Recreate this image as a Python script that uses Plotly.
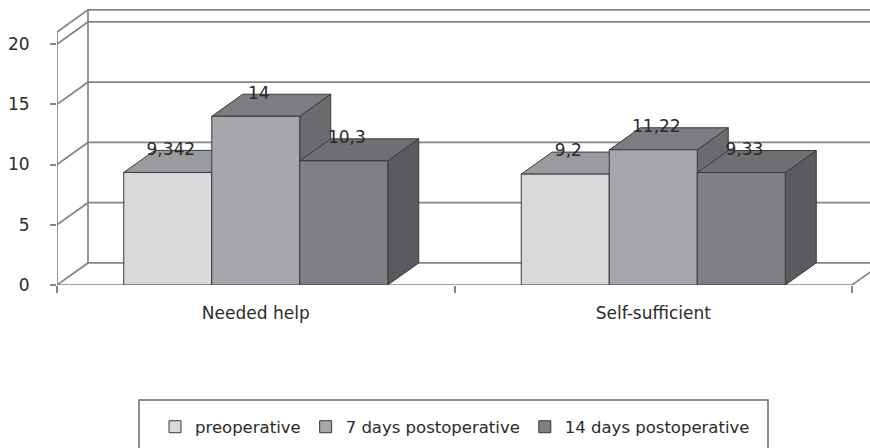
import plotly.graph_objects as go

# Data
categories = ["Needed help", "Self-sufficient"]
series_names = ["preoperative", "7 days postoperative", "14 days postoperative"]
preoperative = [9.342, 9.2]
days7_post = [14, 11.22]
days14_post = [10.3, 9.33]
y_ticks = [0, 5, 10, 15, 20]

series_values = [preoperative, days7_post, days14_post]

# Styling (front, top, side face colours per series)
front_colors = ["#d8d9db", "#a6a7aa", "#7f8083"]
top_colors = ["#9a9b9e", "#7c7d80", "#6e6f72"]
side_colors = ["#87888b", "#6a6b6e", "#5a5b5e"]
edge_color = "#3a3a3a"
grid_color = "#858585"
text_color = "#2a2a2a"
FONT = "DejaVu Sans"

# Pseudo-3D geometry, in axis units
PX_PER_X = 397.5
BAR_W = 88 / PX_PER_X   # width of one column
DX = 31 / PX_PER_X      # depth offset along x
DY = 1.83               # depth offset along y
WALL_TOP = 21           # height of the walls
X_LEFT = -0.5
X_RIGHT = 1.5
X_MAX = -0.5 + 813 / PX_PER_X
Y_MAX = 285 / 12.05

fig = go.Figure()

# Walls and floor outlines
gx, gy = [], []
for v in y_ticks[1:]:
    gx += [X_LEFT, X_LEFT + DX, X_MAX + 1, None]
    gy += [v, v + DY, v + DY, None]
gx += [X_LEFT, X_LEFT + DX, X_MAX + 1, None]
gy += [WALL_TOP, WALL_TOP + DY, WALL_TOP + DY, None]
gx += [X_LEFT, X_LEFT, None, X_LEFT + DX, X_LEFT + DX, None]
gy += [0, WALL_TOP, None, DY, WALL_TOP + DY, None]
gx += [X_LEFT, X_RIGHT, X_RIGHT + DX, None, X_LEFT, X_LEFT + DX, X_MAX + 1, None]
gy += [0, 0, DY, None, 0, DY, DY, None]
fig.add_trace(go.Scatter(
    x=gx, y=gy, mode="lines", line=dict(color=grid_color, width=1.7),
    hoverinfo="skip", showlegend=False, zorder=0,
))

# Columns: side and top faces, then the front face drawn as a bar
for k, (name, vals) in enumerate(zip(series_names, series_values)):
    offset = -1.5 * BAR_W + k * BAR_W
    tx, ty, sx, sy = [], [], [], []
    for i, v in enumerate(vals):
        x0 = i + offset
        x1 = x0 + BAR_W
        tx += [x0, x0 + DX, x1 + DX, x1, x0, None]
        ty += [v, v + DY, v + DY, v, v, None]
        sx += [x1, x1 + DX, x1 + DX, x1, x1, None]
        sy += [0, DY, v + DY, v, 0, None]
    fig.add_trace(go.Scatter(
        x=sx, y=sy, mode="lines", fill="toself", fillcolor=side_colors[k],
        line=dict(color=edge_color, width=1), hoverinfo="skip",
        showlegend=False, zorder=3 * k + 1,
    ))
    fig.add_trace(go.Scatter(
        x=tx, y=ty, mode="lines", fill="toself", fillcolor=top_colors[k],
        line=dict(color=edge_color, width=1), hoverinfo="skip",
        showlegend=False, zorder=3 * k + 2,
    ))
    fig.add_trace(go.Bar(
        x=list(range(len(categories))), y=vals, name=name,
        width=BAR_W, offset=offset,
        marker=dict(color=front_colors[k], line=dict(color=edge_color, width=1)),
        zorder=3 * k + 3,
    ))

# Value labels above each column
lx, ly, lt = [], [], []
for k, vals in enumerate(series_values):
    offset = -1.5 * BAR_W + k * BAR_W
    for i, v in enumerate(vals):
        lx.append(i + offset + BAR_W / 2 + DX * 0.1)
        ly.append(v + DY)
        lt.append(f"{v:g}".replace(".", ","))
fig.add_trace(go.Scatter(
    x=lx, y=ly, text=lt, mode="text", textposition="middle center",
    textfont=dict(family=FONT, size=17, color=text_color),
    hoverinfo="skip", showlegend=False, cliponaxis=False, zorder=20,
))

# Legend frame (paper coordinates: 0 at floor front edge, 1 at top)
def py_to_paper(py):
    return (285 - py) / 285

def px_to_paper(px):
    return (px - 57) / 813

fig.add_shape(
    type="rect", xref="paper", yref="paper",
    x0=px_to_paper(139), x1=px_to_paper(768),
    y0=py_to_paper(400), y1=py_to_paper(456),
    line=dict(color="#6a6a6a", width=1.5), fillcolor="white", layer="below",
)

fig.update_layout(
    width=870, height=448,
    margin=dict(l=57, r=0, t=0, b=163),
    paper_bgcolor="white", plot_bgcolor="white",
    barmode="overlay",
    font=dict(family=FONT, color=text_color),
    xaxis=dict(
        range=[X_LEFT, X_MAX], tickvals=list(range(len(categories))),
        ticktext=categories, ticks="", showgrid=False, zeroline=False,
        showline=False, tickfont=dict(size=17, family=FONT, color=text_color),
        ticklabelstandoff=16,
        minor=dict(tickmode="array", tickvals=[-0.5, 0.5, 1.5], ticks="outside",
                   ticklen=7, tickcolor=grid_color, tickwidth=1.5, showgrid=False),
    ),
    yaxis=dict(
        range=[0, Y_MAX], tickvals=y_ticks, ticks="outside", ticklen=6,
        tickcolor=grid_color, tickwidth=1.5, showgrid=False, zeroline=False,
        showline=False, tickfont=dict(size=17, family=FONT, color=text_color),
        ticklabelstandoff=17,
    ),
    legend=dict(
        orientation="h", xref="container", yref="container",
        x=455 / 870, xanchor="center", y=1 - 427 / 448, yanchor="middle",
        borderwidth=0, bgcolor="rgba(0,0,0,0)",
        font=dict(size=16.5, family=FONT, color=text_color),
        itemwidth=30,
    ),
    showlegend=True,
)

fig.write_html("out.html")
